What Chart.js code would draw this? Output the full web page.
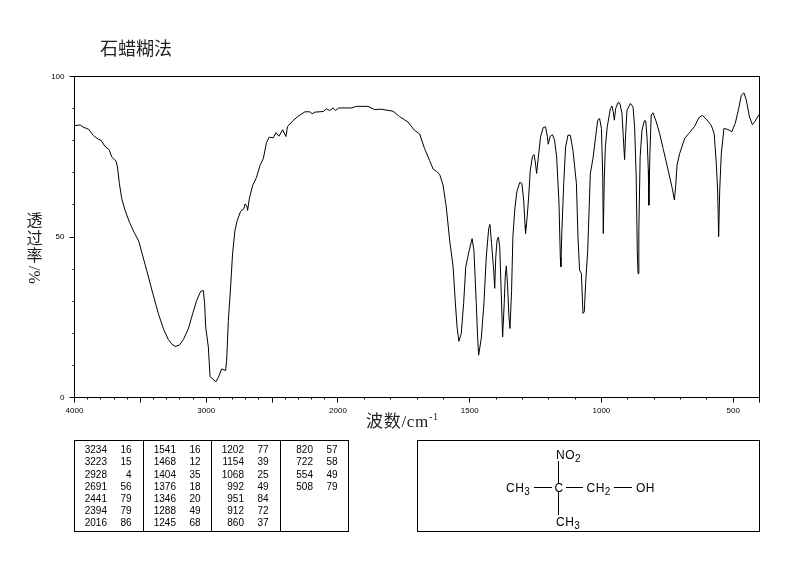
<!DOCTYPE html>
<html>
<head>
<meta charset="utf-8">
<script src="https://cdn.jsdelivr.net/npm/chart.js@4"></script>
<style>
html, body { margin: 0; padding: 0; background: #fff; }
#page { position: relative; width: 794px; height: 567px; overflow: hidden; }
#myChart { position: absolute; left: 0; top: 0; }
#title { position: absolute; left: 100px; top: 36px; font: 18px/22px "Noto Sans CJK SC"; color: #222; }
#ylabel { position: absolute; left: 26px; top: 211px; width: 17px; text-align: center; font: 16px/17.5px "Noto Sans CJK SC"; color: #222; }
#ylabel div { height: 17.5px; }
#ylabel .turned { height: 20px; margin-top: 1px; font: 16px/17px "Liberation Serif"; writing-mode: vertical-rl; }
#xlabel { position: absolute; left: 366px; top: 412px; font: 17px/20px "Liberation Serif", "Noto Sans CJK SC"; letter-spacing: 0.7px; color: #222; white-space: nowrap; }
#xlabel sup { font-size: 10px; line-height: 0; }
#overlay { position: absolute; left: 0; top: 0; }
#overlay text { fill: #000; }
</style>
</head>
<body>
<div id="page">
  <canvas id="myChart" width="794" height="567"></canvas>
  <div id="title">石蜡糊法</div>
  <div id="ylabel"><div>透</div><div>过</div><div>率</div><div class="turned">/%</div></div>
  <div id="xlabel">波数/cm<sup>-1</sup></div>
  <svg id="overlay" width="794" height="567" xmlns="http://www.w3.org/2000/svg"></svg>
</div>
<script>
// spectrum
const wavenumbers = [4000,3957,3932,3894,3856,3818,3800,3768,3737,3717,3684,3674,3659,3641,3616,3583,3548,3512,3490,3452,3406,3363,3325,3287,3262,3237,3204,3174,3136,3103,3073,3042,3022,3012,3004,2984,2971,2951,2926,2908,2883,2853,2845,2832,2815,2800,2782,2765,2739,2714,2706,2693,2686,2673,2648,2618,2592,2567,2542,2522,2491,2471,2448,2420,2395,2383,2340,2302,2251,2213,2196,2175,2112,2087,2062,2036,2019,1997,1949,1930,1886,1861,1836,1791,1766,1734,1709,1690,1671,1652,1639,1627,1614,1601,1589,1576,1563,1555,1548,1541,1532,1523,1515,1503,1491,1484,1475,1470,1466,1456,1446,1437,1428,1423,1417,1409,1405,1401,1396,1391,1386,1381,1375,1369,1365,1361,1356,1351,1347,1341,1336,1329,1321,1310,1302,1295,1290,1288,1283,1277,1270,1262,1256,1251,1246,1240,1231,1221,1212,1205,1202,1194,1186,1178,1170,1161,1156,1154,1150,1143,1136,1127,1118,1108,1095,1089,1083,1076,1070,1065,1060,1052,1042,1032,1022,1014,1007,1000,995,993,989,985,978,966,960,955,951,946,937,930,922,917,912,908,903,890,880,874,868,864,861,858,853,846,837,832,827,822,820,816,811,804,792,779,766,754,741,731,723,718,713,703,684,665,646,630,617,602,583,572,564,559,555,551,545,535,520,505,492,479,469,459,450,438,427,418,403,400]
const transmittance = [84.7,84.9,84.2,83.6,81.6,80.4,80.2,78.2,77.2,74.9,73.6,71.8,66.6,61.9,58.3,54.6,51.5,48.7,45.3,39.6,32.5,26.1,21.4,18.0,16.7,15.9,16.3,18.0,21.4,26.1,30.2,33.1,33.3,29.2,21.9,15.7,6.5,5.8,4.9,6.3,8.9,8.4,11.5,24.0,34.4,44.8,52.0,55.1,58.0,58.8,60.3,59.8,58.3,61.9,66.0,68.6,72.3,74.4,79.5,81.1,80.9,82.5,81.4,83.4,81.3,84.4,86.3,87.6,89.0,89.0,88.4,88.9,89.1,89.9,89.4,90.2,89.4,90.2,90.2,90.7,90.7,89.7,89.8,89.2,87.5,85.8,83.2,82.1,77.5,73.8,71.2,70.5,69.5,66.1,59.4,49.0,40.7,30.3,22.0,17.5,19.9,29.3,40.7,45.4,49.5,45.9,29.3,18.9,13.2,18.4,29.3,43.8,52.6,53.9,48.0,39.7,34.0,43.8,49.0,50.0,46.9,34.5,18.9,29.3,37.6,41.0,34.5,25.1,21.5,33.4,50.1,58.4,64.1,67.0,66.7,61.5,53.7,51.1,55.2,61.5,70.8,75.0,75.7,73.4,69.8,74.5,81.2,84.1,84.3,81.2,78.9,81.4,81.9,80.2,75.0,60.4,43.8,40.7,52.1,66.7,78.1,81.7,81.7,77.0,66.7,50.0,39.7,38.6,26.2,26.7,35.5,45.9,69.8,74.5,81.2,86.4,86.9,83.8,68.7,51.1,68.7,78.1,84.3,90.0,90.8,89.0,86.4,90.0,91.9,91.6,88.5,81.2,74.1,82.2,89.5,91.6,90.5,84.3,68.7,45.9,38.6,52.1,75.0,83.3,86.2,86.2,81.2,70.8,59.9,76.0,88.0,88.7,85.9,82.2,77.6,73.4,68.7,65.1,61.5,66.1,72.4,76.0,80.7,82.6,84.5,87.2,87.9,86.7,84.8,82.2,72.9,64.6,50.1,64.6,76.0,83.8,83.5,82.8,85.4,90.0,94.2,94.9,92.6,87.4,85.0,85.9,88.0,88.0]

// axis ticks
const xTicks = [4000,3900,3800,3700,3600,3500,3400,3300,3200,3100,3000,2900,2800,2700,2600,2500,2400,2300,2200,2100,2000,1900,1800,1700,1600,1500,1400,1300,1200,1100,1000,900,800,700,600,500,400]
const xLabels = [4000,3000,2000,1500,1000,500]
const yLabels = [0,50,100]

// peak table, one list per column
const peakWn = [
  [3234,3223,2928,2691,2441,2394,2016],
  [1541,1468,1404,1376,1346,1288,1245],
  [1202,1154,1068,992,951,912,860],
  [820,722,554,508]
]
const peakT = [
  [16,15,4,56,79,79,86],
  [16,12,35,18,20,49,68],
  [77,39,25,49,84,72,37],
  [57,58,49,79]
]

// the scale doubles below 2000 cm-1
function toAxis(wn) {
  return wn >= 2000 ? 4000 - wn : 2000 + (2000 - wn) * 2
}
function fromAxis(v) {
  return v <= 2000 ? 4000 - v : 2000 - (v - 2000) / 2
}

const majorX = wn => wn % 500 === 0 || wn === 400

const frame = {
  id: 'frame',
  afterDraw(chart) {
    const { ctx, chartArea: a, scales } = chart
    ctx.save()
    ctx.strokeStyle = '#000'
    ctx.lineWidth = 1
    ctx.strokeRect(a.left, a.top, a.right - a.left, a.bottom - a.top)
    ctx.beginPath()
    scales.x.ticks.forEach(t => {
      const px = Math.round(scales.x.getPixelForValue(t.value) - 0.5) + 0.5
      ctx.moveTo(px, a.bottom)
      ctx.lineTo(px, a.bottom + (majorX(fromAxis(t.value)) ? 5 : 2))
    })
    scales.y.ticks.forEach(t => {
      const py = Math.round(scales.y.getPixelForValue(t.value) - 0.5) + 0.5
      ctx.moveTo(a.left, py)
      ctx.lineTo(a.left - (yLabels.includes(t.value) ? 5 : 2), py)
    })
    ctx.stroke()
    ctx.restore()
  }
}

const chart = new Chart(document.getElementById('myChart'), {
  type: 'line',
  data: {
    datasets: [{
      data: wavenumbers.map((wn, i) => ({ x: toAxis(wn), y: transmittance[i] })),
      borderColor: '#000',
      borderWidth: 1,
      pointRadius: 0,
      tension: 0,
      fill: false
    }]
  },
  options: {
    responsive: false,
    animation: false,
    layout: { autoPadding: false, padding: { top: 76.5, right: 34.5, left: 0, bottom: 0 } },
    plugins: { legend: { display: false }, title: { display: false }, tooltip: { enabled: false } },
    scales: {
      x: {
        type: 'linear',
        min: 0,
        max: 5200,
        afterFit: s => { s.height = 169.5 },
        afterBuildTicks: s => { s.ticks = xTicks.map(wn => ({ value: toAxis(wn) })) },
        grid: { display: true, drawOnChartArea: false, drawTicks: false },
        border: { display: false },
        ticks: {
          autoSkip: false,
          maxRotation: 0,
          padding: 8,
          color: '#000',
          font: { family: 'Liberation Sans', size: 8 },
          callback: v => xLabels.includes(fromAxis(v)) ? String(fromAxis(v)) : ''
        }
      },
      y: {
        min: 0,
        max: 100,
        afterFit: s => { s.width = 74.5 },
        grid: { display: true, drawOnChartArea: false, drawTicks: false },
        border: { display: false },
        ticks: {
          stepSize: 10,
          autoSkip: false,
          padding: 10,
          color: '#000',
          font: { family: 'Liberation Sans', size: 8 },
          callback: v => yLabels.includes(v) ? String(v) : ''
        }
      }
    }
  },
  plugins: [frame]
})

// peak table and structure below the chart
const svg = document.getElementById('overlay')
function add(tag, attrs, text) {
  const el = document.createElementNS('http://www.w3.org/2000/svg', tag)
  Object.keys(attrs).forEach(k => el.setAttribute(k, attrs[k]))
  if (text !== undefined) el.textContent = text
  svg.appendChild(el)
  return el
}
function box(x, y, w, h) {
  add('rect', { x: x, y: y, width: w, height: h, fill: 'none', stroke: '#000', 'stroke-width': 1 })
}
function line(x1, y1, x2, y2) {
  add('line', { x1: x1, y1: y1, x2: x2, y2: y2, stroke: '#000', 'stroke-width': 1 })
}

box(74.5, 440.5, 274, 91)
const colLeft = [74.5, 143.5, 211.5, 280.5]
colLeft.slice(1).forEach(x => line(x, 440.5, x, 531.5))
const tableFont = { 'font-family': 'Liberation Sans', 'font-size': 10, 'text-anchor': 'end' }
peakWn.forEach((col, c) => {
  col.forEach((wn, r) => {
    const y = 453.2 + r * 12.2
    add('text', { ...tableFont, x: colLeft[c] + 32.5, y: y }, wn)
    add('text', { ...tableFont, x: colLeft[c] + 57, y: y }, peakT[c][r])
  })
})

box(417.5, 440.5, 342, 91)
line(534, 487.5, 552, 487.5)
line(566, 487.5, 583, 487.5)
line(614, 487.5, 632, 487.5)
line(558.5, 461, 558.5, 483)
line(558.5, 492, 558.5, 515)

function formula(x, y, main, sub) {
  const t = add('text', { x: x, y: y, 'font-family': 'Liberation Sans', 'font-size': 12, 'letter-spacing': 0.5 }, main)
  if (sub) {
    const s = document.createElementNS('http://www.w3.org/2000/svg', 'tspan')
    s.setAttribute('font-size', 10)
    s.setAttribute('dy', 3)
    s.textContent = sub
    t.appendChild(s)
  }
}
formula(506, 491.5, 'CH', '3')
formula(554.5, 491.5, 'C')
formula(586.5, 491.5, 'CH', '2')
formula(636, 491.5, 'OH')
formula(556, 459, 'NO', '2')
formula(556, 526, 'CH', '3')
</script>
</body>
</html>
